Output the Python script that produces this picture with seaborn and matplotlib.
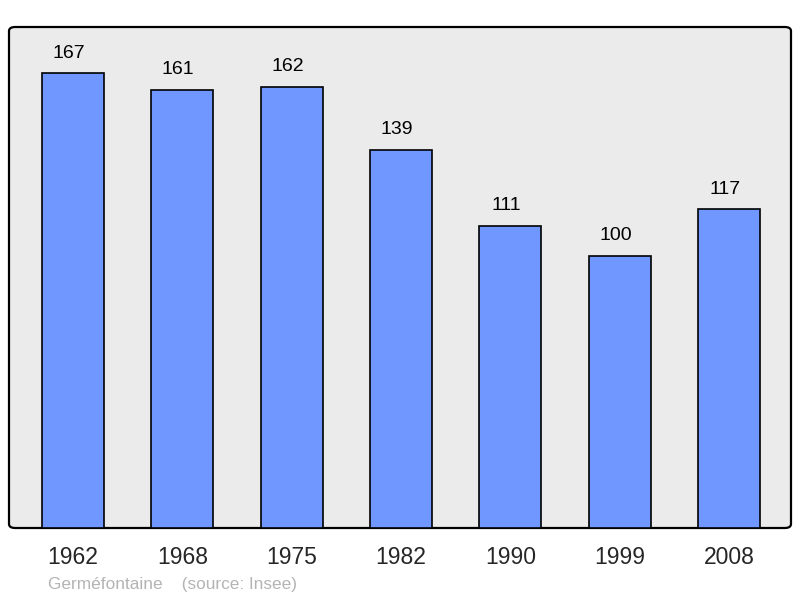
import matplotlib
matplotlib.use("Agg")
import matplotlib.pyplot as plt
import seaborn as sns
import pandas as pd
from matplotlib.patches import FancyBboxPatch

years = ["1962", "1968", "1975", "1982", "1990", "1999", "2008"]
population = [167, 161, 162, 139, 111, 100, 117]

sns.set_style("white")
plt.rcParams['font.family'] = ['Liberation Sans', 'DejaVu Sans']

df = pd.DataFrame({"year": years, "pop": population})

fig = plt.figure(figsize=(8.0, 5.98), dpi=100)
W, H = 800, 598
ax = fig.add_axes([9 / W, 1 - 528 / H, (791 - 9) / W, (528 - 27) / H])
ax.set_facecolor("none")

sns.barplot(data=df, x="year", y="pop", ax=ax, color="#7096ff", saturation=1,
            width=0.567, edgecolor="black", linewidth=1.2, zorder=3)

ax.set_xlim(-0.585, 6.567)
ax.set_ylim(0, 184)
for i, v in enumerate(population):
    ax.annotate(str(v), (i, v), xytext=(-4, 20), textcoords="offset pixels",
                ha="center", va="center", fontsize=14, color="black")

ax.set_yticks([])
ax.set_xlabel("")
ax.set_ylabel("")
ax.tick_params(axis="x", length=0, labelsize=16.5, pad=13)
for s in ax.spines.values():
    s.set_visible(False)

frame = FancyBboxPatch((0, 0), 1, 1, boxstyle="round,pad=0,rounding_size=0.008",
                       transform=ax.transAxes, facecolor="#ebebeb",
                       edgecolor="black", linewidth=1.6, zorder=0, clip_on=False)
ax.add_patch(frame)

fig.text(48 / W, 1 - 584 / H, "Germéfontaine    (source: Insee)", fontsize=12.4,
         color="#b4b4b4", ha="left", va="center")

fig.savefig("out.png", dpi=100)
